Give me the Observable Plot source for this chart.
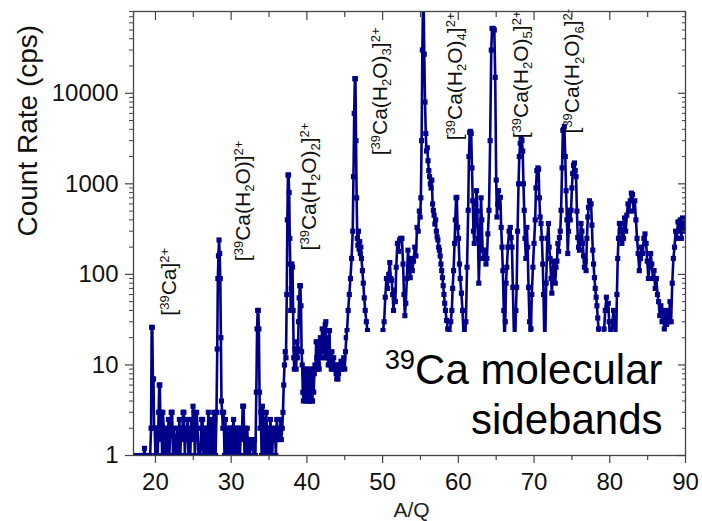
<!DOCTYPE html>
<html><head><meta charset="utf-8">
<script src="https://cdn.jsdelivr.net/npm/d3@7"></script>
<script src="https://cdn.jsdelivr.net/npm/@observablehq/plot@0.6"></script>
<style>html,body{margin:0;padding:0;background:#fff}svg{display:block}</style>
</head><body><div id="chart"></div>
<script>
// [A/Q, count rate (cps)]
const spectrum = [
[17.1,1],[17.6,1],[18.1,1],[18.45,1],[18.55,1.2],[18.65,1],[19.0,1],[19.3,1],[19.42,2],[19.5,26],[19.58,26],[19.66,7],[19.74,7],[19.82,2],[19.9,2],[20.0,1],[20.15,2],[20.3,1],[20.42,3],[20.5,6],[20.58,6],[20.68,1.5],[20.78,3],[20.88,1],[20.98,3],[21.1,2],[21.22,1],[21.35,2],[21.48,1.5],[21.6,1],[21.72,2.5],[21.84,1],[21.96,2],[22.08,3],[22.2,3],[22.32,1],[22.44,2],[22.56,1.5],[22.68,1],[22.8,1.5],[22.92,2],[23.04,1],[23.16,2.5],[23.28,1],[23.4,2],[23.52,1.5],[23.64,3],[23.76,3],[23.88,1],[24.0,2],[24.12,1.5],[24.24,2.5],[24.36,1],[24.48,2],[24.6,1],[24.72,2.5],[24.84,1.5],[24.96,3.5],[25.08,3],[25.2,1],[25.32,2],[25.44,3],[25.56,2],[25.68,1],[25.8,1.2],[25.92,1],[26.1,2.5],[26.22,2.5],[26.34,1],[26.5,2],[26.62,1],[26.74,2],[26.86,1],[26.98,3],[27.1,2],[27.22,1],[27.34,2.5],[27.46,1.5],[27.58,1],[27.7,3],[27.82,2.5],[27.94,1],
[28.06,3],[28.16,15],[28.24,90],[28.32,160],[28.4,240],[28.48,170],[28.56,90],[28.64,20],[28.72,4],[28.8,3],[28.9,2],[29.0,3],[29.12,1],[29.24,2.5],[29.36,1],[29.48,2],[29.6,1],[29.72,2],[29.84,1],[29.96,2],[30.08,1],[30.2,2],[30.32,2.5],[30.44,1],[30.56,2],[30.68,1],[30.8,2],[30.92,1],[31.04,2],[31.16,1],[31.28,2],[31.4,1.5],[31.52,3.5],[31.64,3.5],[31.76,1],[31.88,2],[32.0,1],[32.12,2],[32.24,1],[32.36,1.5],[32.48,1],[32.6,1.5],[32.72,1.2],[32.84,1.5],[32.96,1],[33.08,1.5],[33.2,1],[33.32,5],[33.42,25],[33.5,40],[33.58,40],[33.66,25],[33.74,5],[33.82,2],[33.92,3],[34.02,1],[34.12,3.5],[34.22,3],[34.32,1],[34.42,2.5],[34.52,1],[34.62,3],[34.72,2],[34.82,1],[34.94,2],[35.06,1],[35.18,2.5],[35.3,1.5],[35.42,1],[35.54,2],[35.66,1.5],[35.78,2],[35.9,1],[36.02,2.5],[36.14,1.5],[36.26,2],[36.38,1.5],[36.5,2.5],[36.62,1.5],[36.74,2],[36.84,3],[36.94,6],
[37.04,10],[37.14,14],[37.24,12],[37.34,60],[37.42,400],[37.5,1250],[37.58,1250],[37.66,800],[37.74,250],[37.8,130],[37.86,40],[37.94,70],[38.02,130],[38.1,120],[38.18,40],[38.26,12],[38.34,9],[38.42,15],[38.5,12],[38.58,9],[38.66,18],[38.74,12],[38.82,15],[38.9,30],[38.98,55],[39.06,75],[39.14,75],[39.22,45],[39.3,14],[39.38,10],[39.46,5],[39.54,4],[39.62,8],[39.7,6],[39.78,9],[39.86,4],[39.94,8],[40.02,5],[40.1,9],[40.18,4],[40.26,8],[40.34,4],[40.42,9],[40.5,5],[40.58,8],[40.66,4],[40.74,4],[40.82,9],[40.9,5],[40.98,8],[41.06,10],[41.14,9],[41.22,18],[41.3,12],[41.38,9],[41.46,18],[41.54,10],[41.62,9],[41.7,14],[41.78,20],[41.86,12],[41.94,18],[42.02,25],[42.1,14],[42.18,20],[42.26,24],[42.34,12],[42.42,28],[42.5,30],[42.58,18],[42.66,12],[42.74,20],[42.82,10],[42.9,14],[42.98,24],[43.06,12],[43.14,10],[43.22,9],[43.3,14],[43.38,10],[43.46,9],[43.54,12],[43.62,10],[43.7,9],[43.78,10],[43.86,8],[43.94,7],[44.02,9],[44.1,7],[44.18,8],[44.26,10],[44.38,9],[44.5,11],[44.62,9],[44.74,10],[44.86,12],[45.0,9],[45.1,14],[45.2,20],[45.3,24],
[45.45,40],[45.6,60],[45.75,90],[45.9,150],[46.05,300],[46.15,1200],[46.25,6000],[46.33,14500],[46.41,14500],[46.49,3000],[46.57,700],[46.65,250],[46.73,210],[46.81,300],[46.89,190],[46.97,230],[47.05,170],[47.13,200],[47.21,150],[47.33,110],[47.45,80],[47.57,55],[47.7,40],[47.85,30],[48.0,24],[48.15,18],[48.35,12],[48.6,15],[48.85,10],[49.1,14],[49.35,12],[49.6,16],[49.85,20],[50.05,24],[50.2,30],[50.35,56],[50.5,90],[50.65,70],[50.8,100],[50.95,135],[51.08,90],[51.2,86],[51.32,60],[51.44,40],[51.56,67],[51.68,50],[51.8,120],[51.95,220],[52.1,180],[52.25,240],[52.4,250],[52.55,250],[52.7,130],[52.82,60],[52.94,35],[53.06,48],[53.2,90],[53.35,185],[53.5,120],[53.64,92],[53.78,150],[53.92,110],[54.08,140],[54.25,200],[54.4,160],[54.55,330],[54.7,300],[54.85,500],[54.96,430],[55.05,700],[55.15,3000],[55.25,30000],[55.33,100000],[55.42,100000],[55.5,27000],[55.6,8000],[55.7,3600],[55.8,2300],[55.9,2500],[56.0,1800],[56.1,1400],[56.2,1200],[56.3,1000],[56.4,900],[56.5,1100],[56.6,600],[56.7,510],[56.8,450],[56.9,360],[57.0,400],[57.1,300],[57.2,260],[57.3,240],[57.4,200],[57.5,185],[57.6,160],[57.7,130],[57.8,110],[57.9,92],[58.0,75],[58.1,60],[58.2,48],[58.3,40],[58.45,31],[58.6,25],[58.75,18],[58.9,22],[59.0,30],
[59.14,40],[59.25,70],[59.37,110],[59.5,220],[59.6,400],[59.7,700],[59.8,710],[59.9,330],[60.03,250],[60.15,130],[60.25,90],[60.4,62],[60.55,40],[60.7,20],[60.85,15],[61.0,30],[61.15,120],[61.3,510],[61.4,2000],[61.5,3700],[61.6,3800],[61.7,3600],[61.8,1500],[61.9,650],[62.0,300],[62.1,220],[62.2,350],[62.3,600],[62.4,840],[62.5,500],[62.6,250],[62.7,80],[62.8,150],[62.9,330],[63.0,700],[63.1,400],[63.2,185],[63.33,150],[63.5,185],[63.65,130],[63.77,150],[63.9,280],[64.05,510],[64.2,3000],[64.35,30000],[64.45,52000],[64.6,52000],[64.75,50000],[64.87,15000],[65.0,1100],[65.1,430],[65.2,600],[65.3,840],[65.42,550],[65.55,710],[65.66,330],[65.77,200],[65.88,110],[66.0,40],[66.1,15],[66.2,30],[66.3,80],[66.4,120],[66.55,200],[66.7,300],[66.86,330],[66.97,255],[67.08,200],[67.2,72],[67.35,20],[67.5,15],[67.6,40],[67.7,72],[67.82,300],[67.95,1000],[68.05,2000],[68.17,2800],[68.3,3200],[68.4,3000],[68.5,2300],[68.6,1000],[68.7,510],[68.8,250],[68.92,150],[69.05,330],[69.15,200],[69.27,72],[69.4,30],[69.5,15],[69.6,25],[69.7,60],[69.85,120],[70.0,220],[70.15,400],[70.25,900],[70.37,1400],[70.5,1500],[70.6,1450],[70.7,700],[70.8,430],[70.92,365],[71.03,250],[71.15,130],[71.25,60],[71.35,20],[71.47,15],[71.6,80],[71.75,250],[71.9,365],[72.0,200],[72.12,150],[72.25,90],[72.35,62],[72.47,100],
[72.58,140],[72.7,100],[72.8,80],[72.9,120],[73.02,140],[73.14,220],[73.24,180],[73.35,255],[73.46,300],[73.57,510],[73.7,1500],[73.8,3900],[73.9,4000],[74.0,4300],[74.12,2000],[74.23,840],[74.34,400],[74.45,170],[74.56,300],[74.67,510],[74.78,400],[74.89,510],[75.0,900],[75.1,1300],[75.22,1600],[75.33,1700],[75.44,1400],[75.55,1200],[75.66,500],[75.77,255],[75.88,200],[76.0,185],[76.1,250],[76.2,365],[76.32,300],[76.43,220],[76.54,160],[76.65,120],[76.76,140],[76.87,110],[76.98,250],[77.1,430],[77.2,550],[77.32,650],[77.42,600],[77.53,600],[77.64,350],[77.75,185],[77.86,130],[77.97,92],[78.08,70],[78.2,56],[78.3,45],[78.41,33],[78.52,25],[78.63,18],[78.8,12],[78.95,15],[79.1,20],[79.25,25],[79.4,40],[79.55,56],[79.68,40],[79.8,48],[79.92,30],[80.05,15],[80.2,20],[80.35,30],[80.5,40],[80.6,30],[80.72,15],[80.85,20],[80.94,60],[81.05,150],[81.15,250],[81.27,365],[81.38,300],[81.5,365],[81.6,220],[81.72,300],[81.82,250],[81.95,420],[82.1,300],[82.25,450],[82.4,600],[82.55,500],[82.7,650],[82.85,790],[83.0,760],[83.15,500],[83.3,650],[83.45,400],[83.6,250],[83.75,170],[83.9,110],[84.05,150],[84.2,200],[84.35,170],[84.5,250],[84.65,280],[84.8,220],[84.95,140],[85.1,90],[85.25,120],[85.4,170],[85.55,130],[85.7,90],[85.85,110],[86.0,70],[86.15,90],[86.3,60],[86.45,50],[86.6,35],[86.75,45],[86.9,30],[87.05,40],[87.2,25],[87.35,35],[87.5,28],[87.65,40],[87.8,30],[87.95,50],[88.1,30],[88.25,80],[88.4,150],[88.55,200],[88.7,300],[88.85,250],[89.0,380],[89.15,300],[89.3,400],[89.45,250],[89.6,420],[89.75,300],[89.9,380]
];

const xMajor = [20, 30, 40, 50, 60, 70, 80, 90];
const xMinor = [25, 35, 45, 55, 65, 75, 85];
const yMajor = [1, 10, 100, 1000, 10000];
const yMinor = [2,3,4,5,6,7,8,9, 20,30,40,50,60,70,80,90, 200,300,400,500,600,700,800,900, 2000,3000,4000,5000,6000,7000,8000,9000, 20000,30000,40000,50000,60000,70000,80000];

// peak assignments: rich text (^{..} superscript, _{..} subscript)
const peakLabels = [
  {aq: 21.85, rate: 35,   label: "[^{39}Ca]^{2+}"},
  {aq: 31.6,  rate: 140,  label: "[^{39}Ca(H_{2}O)]^{2+}"},
  {aq: 40.3,  rate: 184,  label: "[^{39}Ca(H_{2}O)_{2}]^{2+}"},
  {aq: 49.7,  rate: 2065, label: "[^{39}Ca(H_{2}O)_{3}]^{2+}"},
  {aq: 59.6,  rate: 3020, label: "[^{39}Ca(H_{2}O)_{4}]^{2+}"},
  {aq: 68.35, rate: 3180, label: "[^{39}Ca(H_{2}O)_{5}]^{2+}"},
  {aq: 75.1,  rate: 3600, label: "[^{39}Ca(H_{2}O)_{6}]^{2-}"}
];
const titleLines = ["^{39}Ca molecular", "sidebands"];
const textBox = [{x1: 45.5, x2: 89.4, y1: 1, y2: 22.8}];
const xLabel = ["A/Q"];
const yLabel = ["Count Rate (cps)"];

const navy = "#00008a";
const axisColor = "#444";
const data = spectrum.map(([aq, rate]) => ({aq, rate}));

const plot = Plot.plot({
  width: 702, height: 521,
  marginLeft: 133, marginRight: 17, marginTop: 11, marginBottom: 66,
  style: {fontFamily: "'Liberation Sans', Arial, sans-serif", background: "white", color: "#111"},
  x: {domain: [17.1, 90], label: null, axis: null},
  y: {type: "log", domain: [1, 80000], label: null, axis: null},
  marks: [
    Plot.line(data, {x: "aq", y: "rate", stroke: navy, strokeWidth: 2.6, clip: true}),
    Plot.dot(data, {x: "aq", y: "rate", symbol: "square", r: 2.9, fill: navy, stroke: "none", clip: true}),
    Plot.rect(textBox, {x1: "x1", x2: "x2", y1: "y1", y2: "y2", fill: "white"}),
    Plot.text(peakLabels, {x: "aq", y: "rate", text: "label", rotate: -90, textAnchor: "start", fontSize: 21, fill: "#111"}),
    Plot.text([titleLines[0]], {text: d => d, frameAnchor: "bottom-right", textAnchor: "end", lineAnchor: "bottom", dx: -23, dy: -72, fontSize: 42, fill: "#000"}),
    Plot.text([titleLines[1]], {text: d => d, frameAnchor: "bottom-right", textAnchor: "end", lineAnchor: "bottom", dx: -23, dy: -22, fontSize: 42, fill: "#000"}),
    Plot.text(xLabel, {text: d => d, frameAnchor: "bottom", lineAnchor: "bottom", dx: 2, dy: 61, fontSize: 21, fill: "#222"}),
    Plot.text(yLabel, {text: d => d, frameAnchor: "left", rotate: -90, dx: -105, dy: 3, fontSize: 28, fill: "#111"}),
    Plot.frame({stroke: axisColor, strokeWidth: 1.3}),
    Plot.axisX({ticks: xMajor, anchor: "bottom", tickSize: 8, tickPadding: 9, fontSize: 24, tickFormat: d => String(d), label: null, stroke: axisColor, strokeWidth: 1.2, fill: "#111"}),
    Plot.axisX({ticks: xMinor, anchor: "bottom", tickSize: 5, fill: "none", label: null, stroke: axisColor, strokeWidth: 1.2}),
    Plot.axisX({ticks: xMajor, anchor: "top", tickSize: -8, fill: "none", label: null, stroke: axisColor, strokeWidth: 1.2}),
    Plot.axisX({ticks: xMinor, anchor: "top", tickSize: -5, fill: "none", label: null, stroke: axisColor, strokeWidth: 1.2}),
    Plot.axisY({ticks: yMajor, anchor: "left", tickSize: 8, tickPadding: 7, fontSize: 24, tickFormat: d => String(d), label: null, stroke: axisColor, strokeWidth: 1.2, fill: "#111"}),
    Plot.axisY({ticks: yMinor, anchor: "left", tickSize: 4, fill: "none", label: null, stroke: axisColor, strokeWidth: 1}),
    Plot.axisY({ticks: yMajor, anchor: "right", tickSize: -8, fill: "none", label: null, stroke: axisColor, strokeWidth: 1.2}),
    Plot.axisY({ticks: yMinor, anchor: "right", tickSize: -4, fill: "none", label: null, stroke: axisColor, strokeWidth: 1})
  ]
});
document.getElementById("chart").appendChild(plot);

// turn ^{..} / _{..} markup into real superscript / subscript tspans
const NS = "http://www.w3.org/2000/svg";
d3.select(plot).selectAll("text").each(function() {
  const str = this.textContent;
  if (!/[\^_]\{/.test(str)) return;
  const fs = parseFloat(getComputedStyle(this).fontSize) || 16;
  const small = fs < 30 ? 0.62 : 0.65;
  const re = /([\^_])\{([^}]*)\}|([^\^_]+)/g;
  const parts = [];
  let m;
  while ((m = re.exec(str))) {
    if (m[1]) parts.push({type: m[1] === "^" ? "sup" : "sub", text: m[2]});
    else parts.push({type: "normal", text: m[3]});
  }
  while (this.firstChild) this.removeChild(this.firstChild);
  let cur = 0;
  for (const p of parts) {
    const ts = document.createElementNS(NS, "tspan");
    let target = 0;
    if (p.type === "sup") target = -0.34 * fs;
    else if (p.type === "sub") target = 0.2 * fs;
    if (target - cur !== 0) ts.setAttribute("dy", (target - cur).toFixed(2));
    cur = target;
    if (p.type !== "normal") ts.setAttribute("font-size", (small * fs).toFixed(2));
    ts.textContent = p.text;
    this.appendChild(ts);
  }
});
</script>
</body></html>
